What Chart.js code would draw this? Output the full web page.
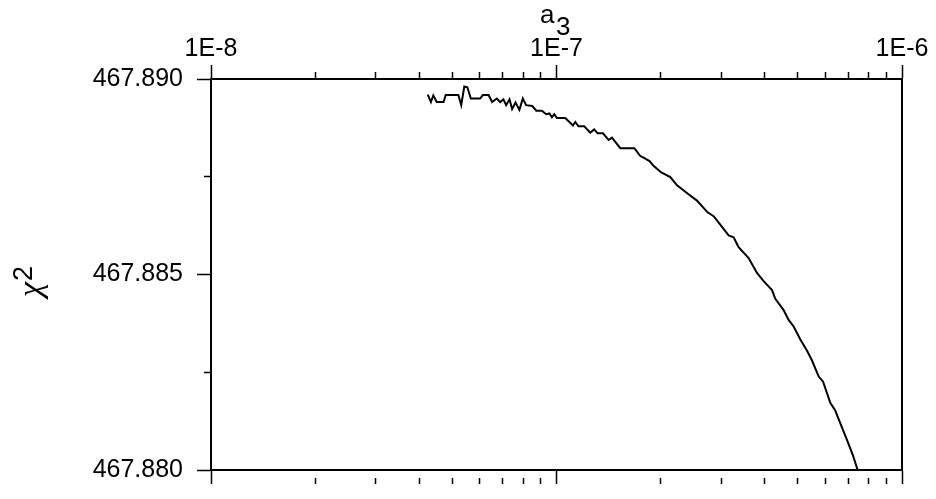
<!DOCTYPE html>
<html>
<head>
<meta charset="utf-8">
<script src="https://cdn.jsdelivr.net/npm/chart.js@4"></script>
<style>
  body { margin: 0; background: #fff; }
  canvas { display: block; }
</style>
</head>
<body>
<canvas id="chart" width="936" height="499"></canvas>
<script>
// a3 values (x, log axis) and chi-square values (y)
const a3Values = [
    4.24e-8, 4.33e-8, 4.40e-8, 4.50e-8, 4.71e-8, 4.78e-8, 5.20e-8, 5.30e-8, 5.41e-8, 5.52e-8,
    5.65e-8, 6.01e-8, 6.12e-8, 6.36e-8, 6.51e-8, 6.72e-8, 6.87e-8, 7.02e-8, 7.15e-8, 7.31e-8,
    7.44e-8, 7.61e-8, 7.81e-8, 7.99e-8, 8.17e-8, 8.51e-8, 8.74e-8, 9.07e-8, 9.34e-8, 9.54e-8,
    9.70e-8, 9.85e-8, 1.003e-7, 1.06e-7, 1.116e-7, 1.133e-7, 1.158e-7, 1.203e-7, 1.252e-7, 1.286e-7,
    1.315e-7, 1.363e-7, 1.415e-7, 1.447e-7, 1.53e-7, 1.68e-7, 1.748e-7, 1.786e-7, 1.859e-7, 1.909e-7,
    2.01e-7, 2.135e-7, 2.233e-7, 2.395e-7, 2.55e-7, 2.737e-7, 2.85e-7, 3.15e-7, 3.256e-7, 3.366e-7,
    3.598e-7, 3.805e-7, 3.977e-7, 4.205e-7, 4.299e-7, 4.543e-7, 4.697e-7, 4.857e-7, 5.079e-7, 5.311e-7,
    5.49e-7, 5.74e-7, 5.91e-7, 6.20e-7, 6.41e-7, 6.63e-7, 6.93e-7, 7.22e-7, 7.44e-7
];
const chi2Values = [
    467.88960, 467.88941, 467.88958, 467.88941, 467.88941, 467.88959, 467.88959, 467.88933, 467.88981, 467.88979,
    467.88950, 467.88950, 467.88959, 467.88959, 467.88941, 467.88950, 467.88941, 467.88948, 467.88933, 467.88948,
    467.88923, 467.88940, 467.88921, 467.88950, 467.88933, 467.88931, 467.88919, 467.88919, 467.88910, 467.88912,
    467.88902, 467.88910, 467.88900, 467.88900, 467.88881, 467.88890, 467.88879, 467.88879, 467.88863, 467.88871,
    467.88861, 467.88861, 467.88844, 467.88850, 467.88823, 467.88823, 467.88803, 467.88799, 467.88790, 467.88778,
    467.88761, 467.88749, 467.88728, 467.88707, 467.88689, 467.88659, 467.88649, 467.88600, 467.88595, 467.88570,
    467.88542, 467.88504, 467.88483, 467.88460, 467.88438, 467.88409, 467.88384, 467.88367, 467.88334, 467.88305,
    467.88280, 467.88239, 467.88226, 467.88172, 467.88152, 467.88119, 467.88077, 467.88036, 467.88000
];

// axis ticks
const xTicks = [
    1e-8, 2e-8, 3e-8, 4e-8, 5e-8, 6e-8, 7e-8, 8e-8, 9e-8,
    1e-7, 2e-7, 3e-7, 4e-7, 5e-7, 6e-7, 7e-7, 8e-7, 9e-7, 1e-6
];
const xMajorTicks = [1e-8, 1e-7, 1e-6];
const xTickLabels = ['1E-8', '1E-7', '1E-6'];
const yTicks = [467.880, 467.8825, 467.885, 467.8875, 467.890];
const yMajorTicks = [467.880, 467.885, 467.890];
const yTickLabels = ['467.880', '467.885', '467.890'];

const FONT = '"Liberation Sans", Arial, sans-serif';
const AXIS_W = 2;

// minor ticks: only the half next to the axis is drawn
const tickDash = (majors) => (ctx) => {
    if (!ctx.tick) return [];
    return majors.includes(ctx.tick.value) ? [] : [0, 7, 7, 0];
};

const gridFor = (majors) => ({
    drawOnChartArea: false,
    drawTicks: true,
    tickLength: 14,
    tickWidth: 1.5,
    tickColor: '#000',
    tickBorderDash: tickDash(majors)
});

// titles with sub/superscripts
const titlesPlugin = {
    id: 'titles',
    afterDraw(chart) {
        const ctx = chart.ctx;
        ctx.save();
        ctx.fillStyle = '#000';
        ctx.textBaseline = 'alphabetic';
        ctx.textAlign = 'left';
        ctx.font = '26px ' + FONT;
        ctx.fillText('a', 540, 23);
        ctx.fillText('3', 556, 35);

        // y title, rotated
        ctx.rotate(-Math.PI / 2);
        ctx.font = 'italic 34px "Liberation Serif", "DejaVu Serif", serif';
        ctx.fillText('χ', -297, 41);
        ctx.font = '27px ' + FONT;
        ctx.fillText('2', -281, 32);
        ctx.restore();
    }
};

new Chart(document.getElementById('chart').getContext('2d'), {
    type: 'scatter',
    data: {
        datasets: [{
            data: a3Values.map((a, i) => ({ x: a, y: chi2Values[i] })),
            showLine: true,
            borderColor: '#000',
            borderWidth: 2,
            pointRadius: 0,
            fill: false,
            tension: 0,
            xAxisID: 'x',
            yAxisID: 'y'
        }]
    },
    options: {
        responsive: false,
        animation: false,
        layout: { padding: 0 },
        plugins: {
            legend: { display: false },
            tooltip: { enabled: false }
        },
        scales: {
            x: {
                type: 'logarithmic',
                position: 'top',
                min: 1e-8,
                max: 1e-6,
                afterBuildTicks: (scale) => { scale.ticks = xTicks.map(v => ({ value: v })); },
                afterFit: (scale) => { scale.height = 79; },
                border: { display: true, color: '#000', width: AXIS_W },
                grid: gridFor(xMajorTicks),
                ticks: {
                    autoSkip: false,
                    maxRotation: 0,
                    padding: 1,
                    color: '#000',
                    font: { family: FONT, size: 25 },
                    callback: (v) => {
                        const i = xMajorTicks.indexOf(v);
                        return i >= 0 ? xTickLabels[i] : '';
                    }
                }
            },
            xb: {
                type: 'logarithmic',
                position: 'bottom',
                min: 1e-8,
                max: 1e-6,
                afterBuildTicks: (scale) => { scale.ticks = xTicks.map(v => ({ value: v })); },
                afterFit: (scale) => { scale.height = 18; },
                border: { display: true, color: '#000', width: AXIS_W },
                grid: gridFor(xMajorTicks),
                ticks: { display: false, autoSkip: false }
            },
            y: {
                type: 'linear',
                position: 'left',
                min: 467.880,
                max: 467.890,
                afterBuildTicks: (scale) => { scale.ticks = yTicks.map(v => ({ value: v })); },
                afterFit: (scale) => { scale.width = 211; },
                border: { display: true, color: '#000', width: AXIS_W },
                grid: gridFor(yMajorTicks),
                ticks: {
                    autoSkip: false,
                    padding: 14,
                    color: '#000',
                    font: { family: FONT, size: 25 },
                    callback: (v) => {
                        const i = yMajorTicks.indexOf(v);
                        return i >= 0 ? yTickLabels[i] : '';
                    }
                }
            },
            yr: {
                type: 'linear',
                position: 'right',
                min: 467.880,
                max: 467.890,
                afterFit: (scale) => { scale.width = 34; },
                border: { display: true, color: '#000', width: AXIS_W },
                grid: { drawOnChartArea: false, drawTicks: false },
                ticks: { display: false }
            }
        }
    },
    plugins: [titlesPlugin]
});
</script>
</body>
</html>
